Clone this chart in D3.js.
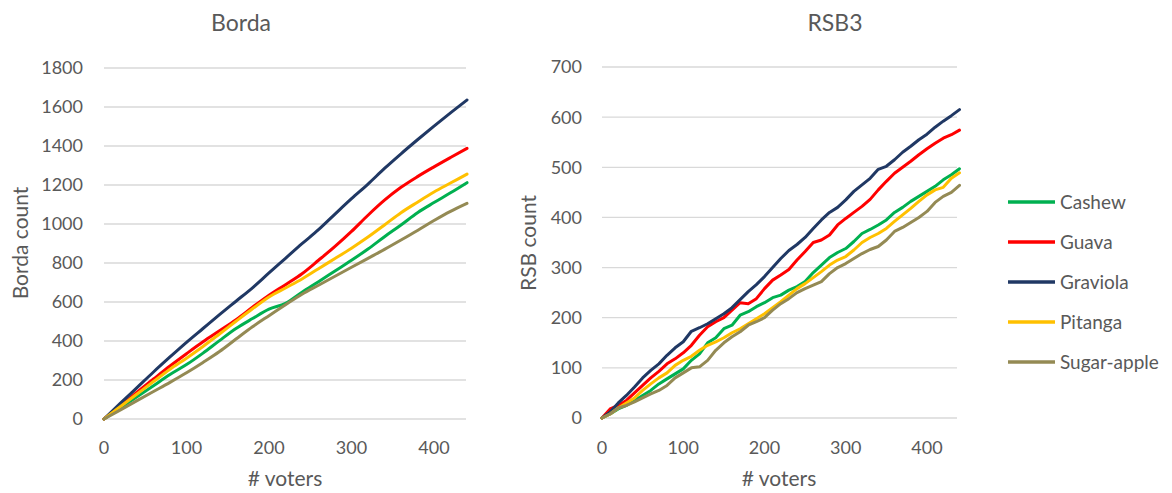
<!DOCTYPE html>
<meta charset="utf-8">
<style>
  body { margin: 0; background: #fff; }
  text { font-family: Lato, "Open Sans", sans-serif; fill: #595959; }
</style>
<body>
<script src="https://d3js.org/d3.v7.min.js"></script>
<script>
    var width = 1172,
        height = 493;

    var names = ["Cashew", "Guava", "Graviola", "Pitanga", "Sugar-apple"];
    var colors = ["#00B050", "#FF0000", "#203864", "#FFC000", "#948A54"];

    // Borda: one value every 20 voters (0..440)
    var bordaVoters = d3.range(0, 441, 20);
    var bordaCashew = [0, 57, 114, 171, 228, 279, 338, 402, 464, 515, 563, 593, 650, 704, 759, 814, 872, 935, 995, 1058, 1110, 1160, 1212];
    var bordaGuava = [0, 68, 137, 205, 272, 335, 396, 452, 509, 573, 635, 689, 745, 814, 885, 962, 1045, 1122, 1188, 1243, 1293, 1341, 1388];
    var bordaGraviola = [0, 81, 161, 241, 318, 393, 464, 535, 604, 673, 749, 824, 899, 971, 1051, 1130, 1205, 1285, 1360, 1432, 1502, 1570, 1636];
    var bordaPitanga = [0, 64, 128, 192, 255, 312, 372, 436, 501, 565, 626, 672, 718, 771, 823, 876, 933, 995, 1058, 1112, 1164, 1210, 1256];
    var bordaSugar = [0, 47, 94, 141, 188, 237, 290, 346, 410, 473, 530, 586, 640, 686, 732, 778, 824, 870, 918, 967, 1018, 1065, 1106];

    // RSB3: one value every 10 voters (0..440)
    var rsbVoters = d3.range(0, 441, 10);
    var rsbCashew = [0, 8, 18, 25, 35, 45, 55, 68, 78, 88, 98, 115, 128, 150, 160, 178, 185, 205, 212, 222, 230, 240, 245, 255, 262, 272, 290, 305, 320, 330, 338, 352, 368, 376, 385, 395, 410, 420, 432, 442, 452, 462, 475, 485, 497];
    var rsbGuava = [0, 18, 25, 35, 50, 65, 80, 93, 108, 118, 130, 145, 165, 182, 192, 200, 215, 230, 228, 238, 258, 275, 285, 296, 315, 332, 350, 355, 365, 385, 398, 410, 422, 436, 455, 472, 488, 500, 512, 525, 537, 548, 558, 565, 574];
    var rsbGraviola = [0, 12, 30, 45, 62, 80, 95, 108, 125, 140, 152, 173, 180, 188, 198, 208, 220, 236, 252, 266, 282, 300, 318, 334, 346, 360, 378, 395, 410, 420, 435, 452, 465, 478, 496, 502, 515, 530, 542, 555, 566, 580, 592, 603, 615];
    var rsbPitanga = [0, 8, 20, 30, 40, 55, 68, 80, 90, 105, 115, 123, 135, 145, 152, 160, 170, 178, 188, 198, 208, 220, 232, 245, 258, 268, 280, 292, 305, 315, 322, 335, 350, 360, 368, 378, 392, 405, 418, 432, 445, 455, 460, 478, 489];
    var rsbSugar = [0, 8, 20, 25, 32, 40, 48, 55, 65, 80, 90, 100, 102, 115, 135, 150, 162, 172, 185, 192, 200, 215, 228, 238, 250, 258, 265, 272, 288, 300, 308, 318, 328, 336, 342, 355, 372, 380, 390, 400, 412, 430, 442, 450, 464];

    var xTicks = [0, 100, 200, 300, 400];
    var bordaTicks = d3.range(0, 1801, 200);
    var rsbTicks = d3.range(0, 701, 100);

    var svg = d3.select('body')
        .append('svg')
        .attr('width', width)
        .attr('height', height);

    function panel(cfg) {
        var x = d3.scaleLinear().domain([0, 440]).range([cfg.x0, cfg.x1]);
        var y = d3.scaleLinear().domain([0, cfg.yMax]).range([cfg.y0, cfg.y1]);
        var g = svg.append('g');

        // gridlines
        g.selectAll('.grid')
            .data(cfg.yTicks)
            .enter().append('line')
            .attr('x1', x(0))
            .attr('x2', cfg.gridEnd)
            .attr('y1', d => y(d))
            .attr('y2', d => y(d))
            .attr('stroke', '#d9d9d9')
            .attr('stroke-width', 1.3);

        // y tick labels
        g.selectAll('.ylab')
            .data(cfg.yTicks)
            .enter().append('text')
            .attr('x', cfg.yLabelX)
            .attr('y', d => y(d))
            .attr('dy', '0.36em')
            .attr('text-anchor', 'end')
            .style('font-size', '18px')
            .text(d => d);

        // x tick labels
        g.selectAll('.xlab')
            .data(xTicks)
            .enter().append('text')
            .attr('x', d => x(d))
            .attr('y', 454)
            .attr('text-anchor', 'middle')
            .style('font-size', '18px')
            .text(d => d);

        var line = d3.line()
            .curve(cfg.curve)
            .x(d => x(d[0]))
            .y(d => y(d[1]));

        cfg.series.forEach(function (s, i) {
            g.append('path')
                .datum(cfg.voters.map((v, j) => [v, s[j]]))
                .attr('fill', 'none')
                .attr('stroke', colors[i])
                .attr('stroke-width', 3)
                .attr('stroke-linejoin', 'round')
                .attr('stroke-linecap', 'round')
                .attr('d', line);
        });

        // titles
        g.append('text')
            .attr('x', cfg.titleX)
            .attr('y', 31)
            .attr('text-anchor', 'middle')
            .style('font-size', '23px')
            .text(cfg.title);

        g.append('text')
            .attr('x', cfg.xTitleX)
            .attr('y', 486)
            .attr('text-anchor', 'middle')
            .style('font-size', '21px')
            .text('# voters');

        g.append('text')
            .attr('transform', 'translate(' + cfg.yTitleX + ',243) rotate(-90)')
            .attr('text-anchor', 'middle')
            .style('font-size', '21px')
            .text(cfg.yTitle);
    }

    panel({
        title: 'Borda', yTitle: 'Borda count',
        x0: 104, x1: 467, gridEnd: 466, y0: 419, y1: 68, yMax: 1800,
        yTicks: bordaTicks, yLabelX: 83, titleX: 241, xTitleX: 285, yTitleX: 28,
        voters: bordaVoters, curve: d3.curveMonotoneX,
        series: [bordaCashew, bordaGuava, bordaGraviola, bordaPitanga, bordaSugar]
    });

    panel({
        title: 'RSB3', yTitle: 'RSB count',
        x0: 602, x1: 959.5, gridEnd: 957, y0: 418, y1: 67, yMax: 700,
        yTicks: rsbTicks, yLabelX: 582, titleX: 835, xTitleX: 779, yTitleX: 536,
        voters: rsbVoters, curve: d3.curveLinear,
        series: [rsbCashew, rsbGuava, rsbGraviola, rsbPitanga, rsbSugar]
    });

    // legend
    var legend = svg.append('g')
        .selectAll('g')
        .data(names)
        .enter().append('g')
        .attr('transform', (d, i) => 'translate(1008,' + (202 + i * 40) + ')');

    legend.append('line')
        .attr('x1', 0)
        .attr('x2', 47)
        .attr('stroke', (d, i) => colors[i])
        .attr('stroke-width', 3.5);

    legend.append('text')
        .attr('x', 52)
        .attr('dy', '0.36em')
        .style('font-size', '19px')
        .text(d => d);
</script>
</body>
</html>
